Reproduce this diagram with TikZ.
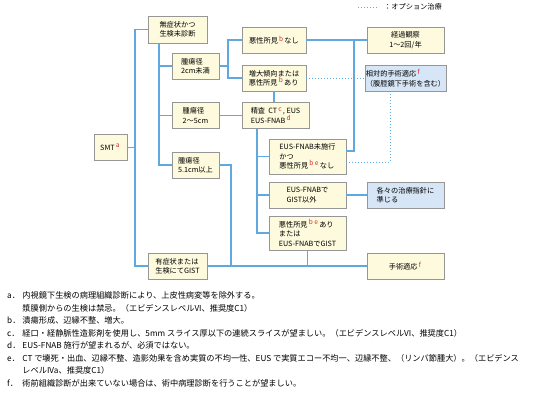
\documentclass[tikz,border=0pt]{standalone}
\usepackage{fontspec}
\newfontfamily\jpfont{Noto Sans CJK JP}
\definecolor{boxcream}{RGB}{253,250,221}
\definecolor{boxblue}{RGB}{214,230,246}
\definecolor{boxgray}{RGB}{150,150,150}
\definecolor{linkblue}{RGB}{95,168,224}
\definecolor{markred}{RGB}{215,45,45}
\usepackage{tikz}
\usetikzlibrary{positioning, calc}
\newcommand{\fnmark}[1]{\,\raisebox{2.6pt}{\fontsize{6.6}{6.6}\selectfont\color{markred}#1}\,}

\begin{document}
\begin{tikzpicture}[x=1pt, y=-1pt,
    box/.style={draw=boxgray, fill=boxcream, line width=0.7pt, align=left, inner sep=1pt,
        minimum height=26pt, font=\jpfont\fontsize{7.2}{9.3}\selectfont},
    bluebox/.style={box, fill=boxblue},
    link/.style={draw=linkblue, line width=1.2pt},
    option/.style={draw=linkblue, line width=1pt, dotted}
]
\useasboundingbox (0,0) rectangle (540,400);

% Legend
\coordinate (legA) at (358,7);
\coordinate (legB) at (377,7);
\draw[option] (legA) -- (legB);
\node[anchor=west, inner sep=0pt, font=\jpfont\fontsize{7.2}{9}\selectfont] (legend) at (384,7) {：オプション治療};

% Boxes
\node[box, minimum width=33pt] (SMT) at (110.5,147.5) {SMT\fnmark{a}};
\node[box, minimum width=59pt, minimum height=27pt] (nosym) at (177.5,29.5) {無症状かつ\\生検未診断};
\node[box, minimum width=59pt] (sym) at (177.5,266) {有症状または\\生検にてGIST};
\node[box, minimum width=47pt] (small) at (195.5,66) {腫瘍径\\2cm未満};
\node[box, minimum width=47pt] (mid) at (195.5,115.5) {腫瘍径\\2〜5cm};
\node[box, minimum width=47pt] (large) at (195.5,165) {腫瘍径\\5.1cm以上};

\node[box, minimum width=64pt] (benign) at (274,40) {悪性所見\fnmark{b}なし};
\node[box, minimum width=64pt] (grow) at (274,78) {増大傾向または\\悪性所見\fnmark{b}あり};
\node[box, minimum width=67pt] (exam) at (275.5,115.5) {精査\ \ CT\fnmark{c}, EUS\\EUS-FNAB\fnmark{d}};

\node[box, minimum width=77pt, minimum height=35pt] (nofnab) at (307.5,156.5) {EUS-FNAB未施行\\かつ\\悪性所見\fnmark{b e}なし};
\node[box, minimum width=77pt] (other) at (307.5,195) {EUS-FNABで\\GIST以外};
\node[box, minimum width=77pt, minimum height=34pt] (gist) at (307.5,233) {悪性所見\fnmark{b e}あり\\または\\EUS-FNABでGIST};

\node[box, minimum width=77pt, align=center] (follow) at (405.5,40) {経過観察\\1〜2回/年};
\node[bluebox, minimum width=77pt] (relop) at (405.5,78) {相対的手術適応\fnmark{f}\\（腹腔鏡下手術を含む）};
\node[bluebox, minimum width=77pt] (each) at (405.5,195) {各々の治療指針に\\準じる};
\node[box, minimum width=77pt] (surg) at (405.5,266) {手術適応\fnmark{f}};

% Spines
\coordinate (trunk) at (135,0);
\coordinate (spineA) at (159,0);
\coordinate (spineB) at (228,0);
\coordinate (spineC) at (257,0);
\coordinate (spineD) at (354,40);
\coordinate (spineE) at (231,266);

% Links
\draw[link] (SMT.east) -- (SMT.east -| trunk);
\draw[link] (nosym.west) -| (trunk |- sym.west) -- (sym.west);
\draw[link] (nosym.south -| spineA) |- (large.west);
\draw[link] (small.west) -- (small.west -| spineA);
\draw[link] (mid.west) -- (mid.west -| spineA);
\draw[link] (benign.west) -| (spineB |- grow.west) -- (grow.west);
\draw[link] (small.east) -- (small.east -| spineB);
\draw[link] (mid.east) -- (exam.west);
\draw[link] (grow.south) -- (grow.south |- exam.north);
\draw[link] (exam.south -| spineC) |- (gist.west);
\draw[link] (nofnab.west) -- (nofnab.west -| spineC);
\draw[link] (other.west) -- (other.west -| spineC);
\draw[link] (benign.east) -- (follow.west);
\draw[link] ($(nofnab.east)+(0,-5.5)$) -| (spineD);
\draw[link] (other.east) -- (each.west);
\draw[link] (sym.east) -- (surg.west);
\draw[link] (large.east) -| (spineE);
\draw[link] (gist.south) -- (gist.south |- surg.west);

% Options
\draw[option] (grow.east) -- (relop.west);
\draw[option] ($(nofnab.east)+(0,5.5)$) -| ($(relop.south)+(-15.5,0)$);

% Notes
\node[anchor=north west, inner sep=0pt, font=\jpfont\fontsize{8.2}{12.5}\selectfont] (notes) at (7,290) {%
\begin{tabular}{@{}l@{\hspace{2pt}}l@{}}
a．& 内視鏡下生検の病理組織診断により、上皮性病変等を除外する。\\
   & 漿膜側からの生検は禁忌。（エビデンスレベルVI、推奨度C1）\\
b．& 潰瘍形成、辺縁不整、増大。\\
c．& 経口・経静脈性造影剤を使用し、5mm スライス厚以下の連続スライスが望ましい。（エビデンスレベルVI、推奨度C1）\\
d．& EUS-FNAB 施行が望まれるが、必須ではない。\\
e．& CT で壊死・出血、辺縁不整、造影効果を含め実質の不均一性、EUS で実質エコー不均一、辺縁不整、（リンパ節腫大）。（エビデンス\\
   & レベルIVa、推奨度C1）\\
f．& 術前組織診断が出来ていない場合は、術中病理診断を行うことが望ましい。
\end{tabular}};

\end{tikzpicture}
\end{document}
